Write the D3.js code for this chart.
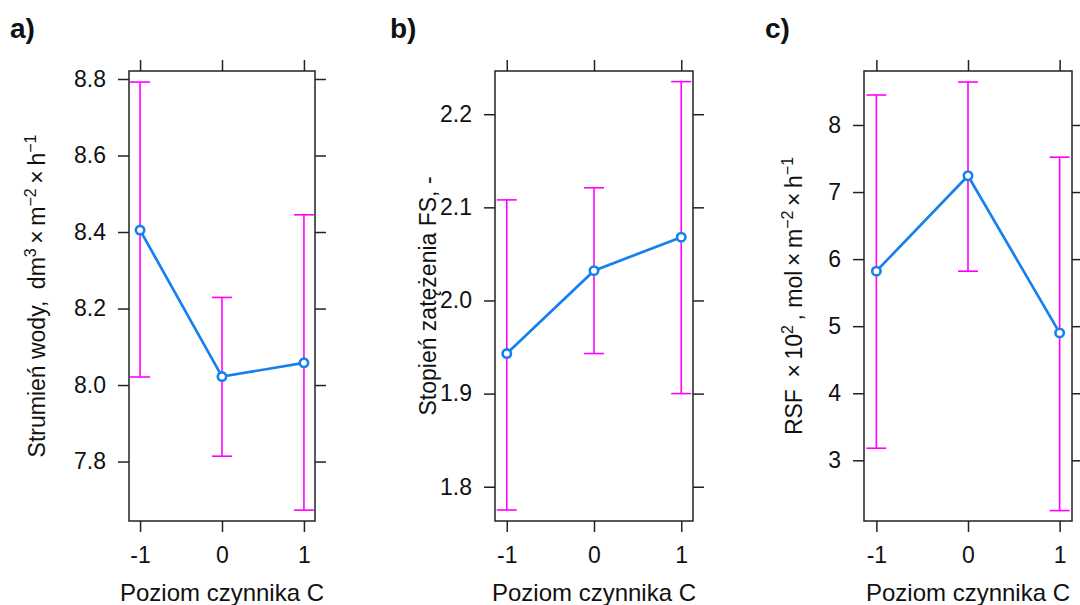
<!DOCTYPE html>
<html><head><meta charset="utf-8">
<script src="https://cdn.jsdelivr.net/npm/d3@7"></script>
<style>
body{margin:0;background:#fff;}
text{font-family:"Liberation Sans",Arial,sans-serif;fill:#111;}
</style></head>
<body><svg id="c" width="1080" height="605"></svg>
<script>
// ---- data ----
const levels = [-1, 0, 1];
const xTickLabels = ["-1", "0", "1"];

const meanA = [8.405, 8.022, 8.058];
const lowA  = [8.021, 7.814, 7.673];
const highA = [8.792, 8.229, 8.445];
const ticksA = [7.8, 8.0, 8.2, 8.4, 8.6, 8.8];

const meanB = [1.943, 2.032, 2.068];
const lowB  = [1.775, 1.943, 1.900];
const highB = [2.108, 2.121, 2.235];
const ticksB = [1.8, 1.9, 2.0, 2.1, 2.2];

const meanC = [5.82, 7.243, 4.90];
const lowC  = [3.18, 5.82, 2.25];
const highC = [8.447, 8.641, 7.52];
const ticksC = [3, 4, 5, 6, 7, 8];

const panelTitles = ["a)", "b)", "c)"];
const xTitle = "Poziom czynnika C";

// ---- layout ----
const svg = d3.select("#c");
const boxTop = 71, boxBottom = 521;
const panels = [
  {title: panelTitles[0], mean: meanA, low: lowA, high: highA, ticks: ticksA, fmt: d3.format(".1f"),
   left: 129, right: 315, ydom: [7.6446, 8.8209], titleX: 10, labX: 45,
   ylab: [["Strumień wody,\u2002dm",0],["3",1],["\u2009×\u2009m",0],["−2",1],["\u2009×\u2009h",0],["−1",1]]},
  {title: panelTitles[1], mean: meanB, low: lowB, high: highB, ticks: ticksB, fmt: d3.format(".1f"),
   left: 495, right: 693, ydom: [1.7632, 2.2464], titleX: 390, labX: 436,
   ylab: [["Stopień zatężenia FS, -",0]]},
  {title: panelTitles[2], mean: meanC, low: lowC, high: highC, ticks: ticksC, fmt: d3.format("d"),
   left: 864, right: 1072, ydom: [2.095, 8.805], titleX: 765, labX: 802,
   ylab: [["RSF\u2002×\u200910",0],["2",1],["\u2009, mol\u2009×\u2009m",0],["−2",1],["\u2009×\u2009h",0],["−1",1]]}
];

const tickLen = 11;
const fsTick = 23, fsLab = 23, fsX = 24;

panels.forEach(p => {
  const x = d3.scaleLinear().domain([-1.135, 1.135]).range([p.left, p.right]);
  const y = d3.scaleLinear().domain(p.ydom).range([boxBottom, boxTop]);
  const g = svg.append("g");

  g.append("rect").attr("x", p.left).attr("y", boxTop)
    .attr("width", p.right - p.left).attr("height", boxBottom - boxTop)
    .attr("fill", "none").attr("stroke", "#222").attr("stroke-width", 1.5);

  const axB = d3.axisBottom(x).tickValues(levels).tickFormat((d,i)=>xTickLabels[i]).tickSize(tickLen).tickSizeOuter(0).tickPadding(15);
  const axT = d3.axisTop(x).tickValues(levels).tickFormat("").tickSize(tickLen).tickSizeOuter(0);
  const axL = d3.axisLeft(y).tickValues(p.ticks).tickFormat(p.fmt).tickSize(tickLen).tickSizeOuter(0).tickPadding(12);
  const axR = d3.axisRight(y).tickValues(p.ticks).tickFormat("").tickSize(tickLen).tickSizeOuter(0);
  [[axB, `translate(0,${boxBottom})`], [axT, `translate(0,${boxTop})`], [axL, `translate(${p.left},0)`], [axR, `translate(${p.right},0)`]]
    .forEach(([ax, tr]) => {
      const a = g.append("g").attr("transform", tr).call(ax);
      a.select(".domain").remove();
      a.selectAll("line").attr("stroke", "#222").attr("stroke-width", 1.5);
      a.selectAll("text").attr("font-size", fsTick).attr("font-family", '"Liberation Sans",Arial,sans-serif').attr("fill", "#111");
    });

  const cap = 10;
  levels.forEach((lv, i) => {
    const cx = x(lv);
    g.append("line").attr("x1", cx).attr("x2", cx).attr("y1", y(p.low[i])).attr("y2", y(p.high[i]))
      .attr("stroke", "#ff00ff").attr("stroke-width", 1.6);
    [p.low[i], p.high[i]].forEach(v => {
      g.append("line").attr("x1", cx - cap).attr("x2", cx + cap).attr("y1", y(v)).attr("y2", y(v))
        .attr("stroke", "#ff00ff").attr("stroke-width", 1.6);
    });
  });

  const line = d3.line().x((d,i) => x(levels[i])).y(d => y(d));
  g.append("path").attr("d", line(p.mean)).attr("fill", "none")
    .attr("stroke", "#1580ee").attr("stroke-width", 2.7);
  g.selectAll("circle.m").data(p.mean).enter().append("circle")
    .attr("cx", (d,i) => x(levels[i])).attr("cy", d => y(d)).attr("r", 4.2)
    .attr("fill", "#fff").attr("stroke", "#1580ee").attr("stroke-width", 2.6);

  svg.append("text").attr("x", p.titleX).attr("y", 38).attr("font-size", 28)
    .attr("font-weight", "bold").text(p.title);

  svg.append("text").attr("x", (p.left + p.right) / 2).attr("y", 601)
    .attr("text-anchor", "middle").attr("font-size", fsX).text(xTitle);

  const yt = svg.append("text")
    .attr("transform", `translate(${p.labX},${(boxTop + boxBottom) / 2}) rotate(-90)`)
    .attr("text-anchor", "middle").attr("font-size", fsLab);
  let shifted = false;
  p.ylab.forEach(([t, sup]) => {
    const ts = yt.append("tspan").text(t);
    if (sup) { ts.attr("dy", shifted ? 0 : -9).attr("font-size", 16); shifted = true; }
    else if (shifted) { ts.attr("dy", 9); shifted = false; }
  });
});
</script></body></html>
